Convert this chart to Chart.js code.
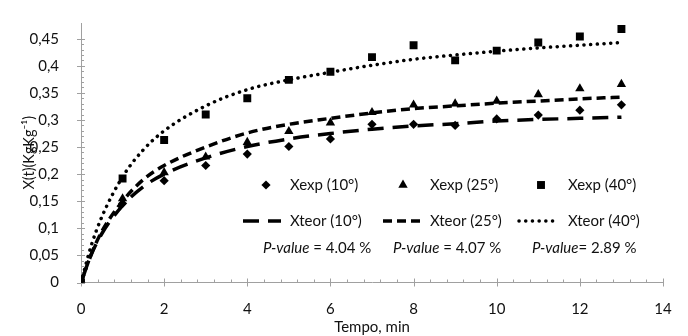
<!DOCTYPE html>
<html>
<head>
<meta charset="utf-8">
<script src="https://cdn.jsdelivr.net/npm/chart.js@4/dist/chart.umd.min.js"></script>
<style>
  html, body { margin: 0; padding: 0; background: #fff; }
  #wrap { width: 688px; height: 336px; }
</style>
</head>
<body>
<div id="wrap"><canvas id="dryChart" width="688" height="336"></canvas></div>
<script>
// experimental points (one per minute)
const tempo = [0, 1, 2, 3, 4, 5, 6, 7, 8, 9, 10, 11, 12, 13];
const xexp10 = [0, 0.146, 0.188, 0.216, 0.237, 0.251, 0.265, 0.292, 0.292, 0.290, 0.302, 0.309, 0.318, 0.328];
const xexp25 = [0, 0.155, 0.203, 0.232, 0.259, 0.279, 0.295, 0.314, 0.328, 0.330, 0.335, 0.347, 0.358, 0.366];
const xexp40 = [0, 0.192, 0.263, 0.310, 0.340, 0.374, 0.389, 0.416, 0.438, 0.410, 0.428, 0.443, 0.454, 0.468];

// model curves
const tempoTeor = [0, 0.25, 0.5, 1, 1.5, 2, 3, 4, 5, 6, 7, 8, 9, 10, 11, 12, 13];
const xteor10 = [0, 0.052, 0.090, 0.142, 0.177, 0.200, 0.230, 0.251, 0.265, 0.275, 0.283, 0.289, 0.293, 0.298, 0.301, 0.303, 0.305];
const xteor25 = [0, 0.053, 0.094, 0.150, 0.190, 0.216, 0.250, 0.276, 0.292, 0.303, 0.313, 0.321, 0.326, 0.331, 0.335, 0.339, 0.342];
const xteor40 = [0, 0.069, 0.121, 0.195, 0.245, 0.280, 0.326, 0.356, 0.374, 0.388, 0.401, 0.412, 0.420, 0.427, 0.433, 0.438, 0.443];

// axis ticks
const xTickValues = [0, 2, 4, 6, 8, 10, 12, 14];
const yTickValues = [0, 0.05, 0.1, 0.15, 0.2, 0.25, 0.3, 0.35, 0.4, 0.45];

const expLabels = ['Xexp (10°)', 'Xexp (25°)', 'Xexp (40°)'];
const teorLabels = ['Xteor (10°)', 'Xteor (25°)', 'Xteor (40°)'];
const pValues = ['= 4.04 %', '= 4.07 %', '= 2.89 %'];

const FONT = 'Lato, "Open Sans", sans-serif';
const FONT_SIZE = 15;
const AXIS_GREY = '#a0a0a0';
const TEXT = '#111';

function pts(xs, ys) {
    return xs.map((x, i) => ({ x: x, y: ys[i] }));
}

const markerStyles = [
    { pointStyle: 'rectRot', radius: 4.6 },
    { pointStyle: 'triangle', radius: 5.4 },
    { pointStyle: 'rect', radius: 5.6 }
];
const lineDashes = [[16, 9], [9, 5], [0.1, 6.6]];
const lineCaps = ['butt', 'butt', 'round'];

// Excel-like tick marks + custom in-plot legend
const excelBits = {
    id: 'excelBits',
    beforeDatasetsDraw(chart) {
        const ctx = chart.ctx;
        const xs = chart.scales.x, ys = chart.scales.y;
        const x0 = xs.getPixelForValue(0);
        const y0 = ys.getPixelForValue(0);
        ctx.save();
        ctx.strokeStyle = AXIS_GREY;
        ctx.lineWidth = 1;
        ctx.beginPath();
        for (let v = 0; v <= 14.001; v += 0.4) {
            const px = Math.round(xs.getPixelForValue(v)) + 0.5;
            const major = Math.abs(v / 2 - Math.round(v / 2)) < 1e-6;
            ctx.moveTo(px, y0 + (major ? 4 : 0));
            ctx.lineTo(px, y0 - (major ? 4 : 3));
        }
        for (let v = 0; v <= 0.4501; v += 0.01) {
            const py = Math.round(ys.getPixelForValue(v)) + 0.5;
            const major = Math.abs(v / 0.05 - Math.round(v / 0.05)) < 1e-6;
            ctx.moveTo(x0 - (major ? 4 : 0), py);
            ctx.lineTo(x0 + (major ? 4 : 3), py);
        }
        ctx.stroke();
        ctx.restore();
    },
    afterDraw(chart) {
        const ctx = chart.ctx;
        const symX = [266, 403, 541];
        const textX = [290, 430, 568];
        const sampleX = [[243, 281], [383, 420], [519, 558]];
        const pX = [263, 393, 532];
        ctx.save();
        ctx.fillStyle = '#000';
        ctx.strokeStyle = '#000';
        ctx.textBaseline = 'middle';
        for (let i = 0; i < 3; i++) {
            // row 1: markers
            ctx.fillStyle = '#000';
            Chart.helpers.drawPoint(ctx, {
                pointStyle: markerStyles[i].pointStyle,
                radius: markerStyles[i].radius,
                rotation: 0,
                borderWidth: 0
            }, symX[i], 185);
            ctx.fillStyle = TEXT;
            ctx.font = FONT_SIZE + 'px ' + FONT;
            ctx.fillText(expLabels[i], textX[i], 185);

            // row 2: line samples
            ctx.beginPath();
            ctx.lineWidth = 3.5;
            ctx.setLineDash(lineDashes[i]);
            ctx.lineCap = lineCaps[i];
            ctx.moveTo(sampleX[i][0], 221);
            ctx.lineTo(sampleX[i][1], 221);
            ctx.stroke();
            ctx.setLineDash([]);
            ctx.fillText(teorLabels[i], textX[i], 221);

            // row 3: p-values
            ctx.font = 'italic ' + FONT_SIZE + 'px ' + FONT;
            ctx.fillText('P-value', pX[i], 248);
            const w = ctx.measureText('P-value').width;
            ctx.font = FONT_SIZE + 'px ' + FONT;
            ctx.fillText((i === 2 ? '' : ' ') + pValues[i], pX[i] + w, 248);
        }
        ctx.restore();
    }
};

const datasets = [];
[xteor10, xteor25, xteor40].forEach((ys, i) => {
    datasets.push({
        label: teorLabels[i],
        data: pts(tempoTeor, ys),
        showLine: true,
        borderColor: '#000',
        borderWidth: 3.5,
        borderDash: lineDashes[i],
        borderCapStyle: lineCaps[i],
        cubicInterpolationMode: 'monotone',
        pointRadius: 0,
        pointHoverRadius: 0
    });
});
[xexp10, xexp25, xexp40].forEach((ys, i) => {
    datasets.push({
        label: expLabels[i],
        data: pts(tempo, ys),
        showLine: false,
        backgroundColor: '#000',
        borderColor: '#000',
        borderWidth: 0,
        pointStyle: markerStyles[i].pointStyle,
        pointRadius: markerStyles[i].radius,
        pointHoverRadius: markerStyles[i].radius
    });
});

new Chart(document.getElementById('dryChart').getContext('2d'), {
    type: 'scatter',
    data: { datasets: datasets },
    options: {
        responsive: false,
        animation: false,
        devicePixelRatio: 1,
        layout: { padding: { top: 13, right: 25, left: 0, bottom: 0 } },
        plugins: {
            legend: { display: false },
            tooltip: { enabled: false }
        },
        scales: {
            x: {
                type: 'linear',
                min: 0,
                max: 14,
                grid: { display: false },
                border: { display: true, color: AXIS_GREY, width: 1 },
                ticks: {
                    padding: 10,
                    color: TEXT,
                    font: { family: FONT, size: FONT_SIZE }
                },
                afterBuildTicks(scale) {
                    scale.ticks = xTickValues.map(v => ({ value: v }));
                },
                title: {
                    display: true,
                    text: 'Tempo, min',
                    color: TEXT,
                    font: { family: FONT, size: FONT_SIZE },
                    padding: { top: 2, bottom: 0 }
                },
                afterFit(scale) { scale.height = 53.5; }
            },
            y: {
                type: 'linear',
                min: 0,
                max: 0.479,
                grid: { display: false },
                border: { display: true, color: AXIS_GREY, width: 1 },
                ticks: {
                    padding: 14,
                    color: TEXT,
                    font: { family: FONT, size: FONT_SIZE },
                    callback: (v) => String(+v.toFixed(2)).replace('.', ',')
                },
                afterBuildTicks(scale) {
                    scale.ticks = yTickValues.map(v => ({ value: v }));
                },
                title: {
                    display: true,
                    text: 'X(t)(KgKg⁻¹)',
                    color: TEXT,
                    font: { family: FONT, size: 14.5 },
                    padding: { top: 21, bottom: 0 }
                },
                afterFit(scale) { scale.width = 81; }
            }
        }
    },
    plugins: [excelBits]
});
</script>
</body>
</html>
